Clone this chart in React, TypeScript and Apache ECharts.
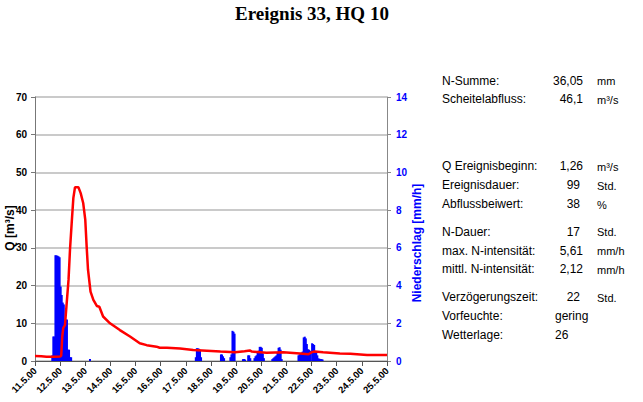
import React, { useEffect, useRef } from "react";
import * as echarts from "echarts";

// Abfluss Q [m³/s] – hours since 11.5.00 00:00
const flowHours = [0, 6, 11, 18, 24, 25, 26, 27, 28.6, 30, 32, 33.4, 35, 36.6, 38.2, 41.4, 43.6, 46, 48, 49.3, 50.6, 53, 55.7, 59, 61.4, 65, 71.6, 81, 90.7, 100, 106.6, 116, 119, 126, 138.5, 151, 164, 177, 191, 200, 205, 207, 221, 237, 253, 261, 264, 267, 275, 291, 301, 317, 336];
const flowValues = [1.3, 1.25, 1.15, 1.15, 1.2, 1.4, 6.5, 8.8, 9.5, 14.4, 21.5, 29.5, 36.5, 43.2, 46.1, 46.1, 44.5, 41.9, 37.4, 30.4, 24.2, 18.4, 16.2, 14.6, 14.4, 11.8, 10.0, 8.2, 6.5, 4.7, 4.2, 3.8, 3.5, 3.5, 3.3, 2.9, 2.7, 2.5, 2.3, 2.6, 2.8, 2.5, 2.2, 2.3, 2.0, 1.8, 2.3, 2.5, 2.3, 2.0, 1.9, 1.6, 1.6];

// Niederschlag [mm/h] – hourly
const rainHours = [16, 17, 18, 19, 20, 21, 22, 23, 24, 25, 26, 27, 28, 29, 30, 31, 32, 33, 34, 52,
  153, 154, 155, 156, 157, 158,
  177, 178, 179, 180,
  186, 187, 188, 189, 190,
  198, 199, 200, 203, 204, 205,
  209, 210, 211, 212, 213, 214, 215, 216, 217, 218,
  226, 227, 228, 229, 230, 231, 232, 233, 234, 235,
  251, 252, 253, 254, 255, 256, 257, 258, 259, 260, 261, 262, 264, 265, 266, 267, 268, 269, 270, 271, 272, 273, 274];
const rainValues = [0.3, 1.3, 1.3, 5.61, 5.6, 5.58, 5.55, 5.5, 3.95, 3.5, 3.1, 3.0, 2.2, 2.2, 2.2, 0.6, 0.6, 0.2, 0.2, 0.1,
  0.2, 0.68, 0.67, 0.65, 0.6, 0.2,
  0.35, 0.35, 0.25, 0.15,
  0.2, 0.35, 1.6, 1.55, 1.45,
  0.1, 0.1, 0.08, 0.3, 0.3, 0.15,
  0.15, 0.25, 0.3, 0.45, 0.55, 0.75, 0.75, 0.7, 0.4, 0.15,
  0.1, 0.15, 0.2, 0.25, 0.3, 0.45, 0.7, 0.73, 0.6, 0.1,
  0.3, 0.35, 0.4, 0.45, 0.5, 1.25, 1.29, 1.2, 0.9, 0.62, 0.6, 0.55, 0.94, 0.9, 0.85, 0.5, 0.45, 0.3, 0.14, 0.12, 0.1, 0.1, 0.08];

const startDay = 11;
const dayCount = 14;

const statsLabels = ["N-Summe:", "Scheitelabfluss:", "Q Ereignisbeginn:", "Ereignisdauer:", "Abflussbeiwert:", "N-Dauer:", "max. N-intensität:", "mittl. N-intensität:", "Verzögerungszeit:", "Vorfeuchte:", "Wetterlage:"];
const statsValues = ["36,05", "46,1", "1,26", "99", "38", "17", "5,61", "2,12", "22", "gering", "26"];
const statsUnits = ["mm", "m³/s", "m³/s", "Std.", "%", "Std.", "mm/h", "mm/h", "Std.", "", ""];

// layout
const rowY = [80.7, 99.3, 166, 185, 204, 231.7, 250.7, 269.3, 297.3, 316, 335];
const FONT = 'Arial, "Liberation Sans", sans-serif';

export default function App() {
  const ref = useRef<HTMLDivElement>(null);
  useEffect(() => {
    document.body.style.margin = "0";
    const chart = echarts.init(ref.current!, null, { renderer: "svg" });
    const panel: any[] = [];
    statsLabels.forEach((lab, i) => {
      panel.push({ type: "text", x: 442, y: rowY[i], style: { text: lab, font: `12px ${FONT}`, fill: "#000", verticalAlign: "middle", align: "left" } });
      const v = statsValues[i];
      const isNum = /^[0-9,]+$/.test(v);
      const isLeft = i >= 9;
      const vx = isLeft ? 555 : v.includes(",") ? 583 : 580;
      panel.push({ type: "text", x: vx, y: rowY[i], style: { text: v, font: `12px ${FONT}`, fill: "#000", verticalAlign: "middle", align: isLeft || !isNum ? "left" : "right" } });
      if (statsUnits[i]) {
        panel.push({ type: "text", x: 597, y: rowY[i] + 0.5, style: { text: statsUnits[i], font: `11px ${FONT}`, fill: "#000", verticalAlign: "middle", align: "left" } });
      }
    });
    chart.setOption({
      animation: false,
      backgroundColor: "#fff",
      grid: { left: 35, right: 256, top: 97, bottom: 41 },
      xAxis: {
        type: "value",
        min: 0,
        max: dayCount * 24,
        interval: 24,
        splitLine: { show: false },
        axisLine: { lineStyle: { color: "#555", width: 1 } },
        axisTick: { length: 5, lineStyle: { color: "#555" } },
        axisLabel: {
          rotate: 45,
          margin: 8,
          fontSize: 9.5,
          fontWeight: "bold",
          fontFamily: FONT,
          color: "#000",
          formatter: (v: number) => `${startDay + v / 24}.5.00`,
        },
      },
      yAxis: [
        {
          type: "value",
          min: 0,
          max: 70,
          interval: 10,
          axisLine: { show: true, lineStyle: { color: "#777" } },
          axisTick: { show: true, length: 4, lineStyle: { color: "#777" } },
          axisLabel: { fontSize: 10, fontWeight: "bold", fontFamily: FONT, color: "#000", margin: 8 },
          splitLine: { lineStyle: { color: "#b8b8b8", width: 1.5 } },
        },
        {
          type: "value",
          min: 0,
          max: 14,
          interval: 2,
          position: "right",
          axisLine: { show: true, lineStyle: { color: "#888" } },
          axisTick: { show: true, length: 4, lineStyle: { color: "#888" } },
          axisLabel: { fontSize: 10, fontWeight: "bold", fontFamily: FONT, color: "#0000ff", margin: 9 },
          splitLine: { show: false },
        },
      ],
      series: [
        {
          type: "bar",
          yAxisIndex: 1,
          barWidth: 2,
          itemStyle: { color: "#0000ff" },
          data: rainHours.map((h, i) => [h + 0.5, rainValues[i]]),
          z: 2,
        },
        {
          type: "line",
          yAxisIndex: 0,
          showSymbol: false,
          lineStyle: { color: "#ff0000", width: 2.5 },
          data: flowHours.map((h, i) => [h, flowValues[i]]),
          z: 3,
        },
      ],
      graphic: [
        { type: "text", x: 312, y: 13, style: { text: "Ereignis 33, HQ 10", font: `bold 19px "Times New Roman", "Liberation Serif", serif`, fill: "#000", align: "center", verticalAlign: "middle" } },
        { type: "text", x: 10, y: 228, rotation: Math.PI / 2, style: { text: "Q [m³/s]", font: `bold 12px ${FONT}`, fill: "#000", align: "center", verticalAlign: "middle" } },
        { type: "text", x: 417, y: 243, rotation: Math.PI / 2, style: { text: "Niederschlag [mm/h]", font: `bold 12px ${FONT}`, fill: "#0000ff", align: "center", verticalAlign: "middle" } },
        ...panel,
      ],
    });
    return () => chart.dispose();
  }, []);
  return <div ref={ref} style={{ position: "fixed", left: 0, top: 0, width: 643, height: 402 }} />;
}
